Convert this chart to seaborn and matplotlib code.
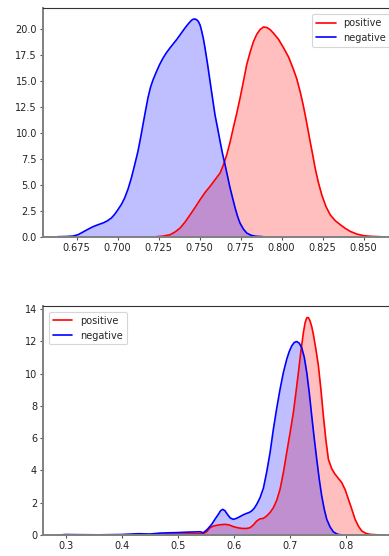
import matplotlib
matplotlib.use("Agg")
import matplotlib.pyplot as plt
import seaborn as sns
import pandas as pd

# ---- data (density curves) ----
top_pos_x = [0.7238, 0.7279, 0.7320, 0.7350, 0.7381, 0.7411, 0.7442, 0.7472, 0.7503, 0.7533,
             0.7564, 0.7595, 0.7625, 0.7645, 0.7666, 0.7686, 0.7706, 0.7727, 0.7747, 0.7768,
             0.7788, 0.7809, 0.7829, 0.7849, 0.7869, 0.7890, 0.7910, 0.7930, 0.7951, 0.7982,
             0.8012, 0.8043, 0.8073, 0.8093, 0.8113, 0.8129, 0.8144, 0.8159, 0.8174, 0.8190,
             0.8205, 0.8225, 0.8246, 0.8271, 0.8297, 0.8327, 0.8358, 0.8389, 0.8419, 0.8460,
             0.8500, 0.8550, 0.8602]
top_pos_y = [0.0, 0.06, 0.19, 0.45, 0.83, 1.4, 2.1, 2.8, 3.56, 4.25,
             4.85, 5.5, 6.13, 6.9, 7.9, 9.1, 10.5, 11.9, 13.35, 15.0,
             16.6, 17.8, 18.8, 19.5, 19.95, 20.2, 20.15, 19.95, 19.6, 19.0,
             18.2, 17.3, 16.1, 15.2, 14.0, 12.9, 11.75, 10.5, 9.2, 7.9,
             6.6, 5.2, 4.0, 2.9, 2.1, 1.55, 1.16, 0.8, 0.51, 0.25,
             0.1, 0.03, 0.0]

top_neg_x = [0.6636, 0.6690, 0.6728, 0.6760, 0.6789, 0.6820, 0.6850, 0.6880, 0.6911, 0.6937,
             0.6962, 0.6982, 0.7002, 0.7023, 0.7043, 0.7064, 0.7084, 0.7104, 0.7124, 0.7140,
             0.7155, 0.7170, 0.7185, 0.7200, 0.7216, 0.7237, 0.7257, 0.7277, 0.7297, 0.7318,
             0.7338, 0.7361, 0.7386, 0.7411, 0.7431, 0.7451, 0.7462, 0.7472, 0.7482, 0.7492,
             0.7503, 0.7513, 0.7523, 0.7533, 0.7549, 0.7564, 0.7579, 0.7594, 0.7610, 0.7625,
             0.7640, 0.7656, 0.7671, 0.7686, 0.7702, 0.7717, 0.7732, 0.7747, 0.7768, 0.7788,
             0.7814, 0.7839, 0.7886]
top_neg_y = [0.0, 0.02, 0.06, 0.2, 0.45, 0.72, 0.96, 1.15, 1.32, 1.52,
             1.8, 2.15, 2.6, 3.1, 3.72, 4.6, 5.65, 6.9, 8.2, 9.5,
             10.8, 12.1, 13.35, 14.35, 15.1, 15.9, 16.6, 17.2, 17.7, 18.15,
             18.55, 19.0, 19.55, 20.1, 20.5, 20.85, 20.95, 20.97, 20.9, 20.75,
             20.4, 19.8, 19.1, 18.2, 16.6, 14.96, 13.35, 11.75, 10.45, 9.2,
             8.0, 6.9, 5.8, 4.7, 3.7, 2.76, 1.95, 1.3, 0.72, 0.35,
             0.14, 0.05, 0.0]

bot_pos_x = [0.4768, 0.5101, 0.5400, 0.5458, 0.5517, 0.5577, 0.5636, 0.5696, 0.5770, 0.5845,
             0.5920, 0.5994, 0.6070, 0.6143, 0.6220, 0.6292, 0.6350, 0.6411, 0.6470, 0.6530,
             0.6589, 0.6650, 0.6708, 0.6768, 0.6827, 0.6886, 0.6946, 0.7005, 0.7065, 0.7110,
             0.7155, 0.7200, 0.7244, 0.7275, 0.7304, 0.7333, 0.7363, 0.7393, 0.7423, 0.7467,
             0.7512, 0.7557, 0.7601, 0.7645, 0.7690, 0.7750, 0.7810, 0.7870, 0.7929, 0.7990,
             0.8048, 0.8108, 0.8167, 0.8226, 0.8286, 0.8360, 0.8435, 0.8613]
bot_pos_y = [0.04, 0.06, 0.08, 0.08, 0.2, 0.45, 0.55, 0.6, 0.64, 0.66,
             0.62, 0.52, 0.45, 0.41, 0.4, 0.45, 0.62, 0.87, 1.0, 1.03,
             1.18, 1.4, 1.69, 2.15, 2.83, 3.85, 5.1, 6.3, 7.58, 8.8,
             10.06, 11.4, 12.53, 13.15, 13.45, 13.46, 13.25, 12.9, 12.4, 11.5,
             10.47, 9.0, 7.37, 5.9, 4.69, 4.1, 3.76, 3.5, 3.24, 2.8,
             2.21, 1.6, 0.97, 0.55, 0.25, 0.1, 0.04, 0.0]

bot_neg_x = [0.2887, 0.30, 0.32, 0.36, 0.40, 0.43, 0.45, 0.47, 0.50, 0.52,
             0.5400, 0.5458, 0.5530, 0.5607, 0.5670, 0.5726, 0.5765, 0.5804, 0.5845, 0.5887,
             0.5940, 0.5994, 0.6050, 0.6113, 0.6170, 0.6232, 0.6280, 0.6321, 0.6365, 0.6411,
             0.6470, 0.6530, 0.6589, 0.6649, 0.6708, 0.6768, 0.6827, 0.6886, 0.6946, 0.6990,
             0.7036, 0.7080, 0.7125, 0.7170, 0.7214, 0.7260, 0.7304, 0.7349, 0.7393, 0.7437,
             0.7482, 0.7527, 0.7571, 0.7616, 0.7661, 0.7720, 0.7780, 0.7850, 0.7929]
bot_neg_y = [0.0, 0.03, 0.02, 0.01, 0.03, 0.08, 0.06, 0.12, 0.15, 0.18,
             0.2, 0.14, 0.35, 0.66, 1.0, 1.28, 1.5, 1.59, 1.5, 1.28,
             1.05, 0.97, 1.03, 1.14, 1.25, 1.34, 1.4, 1.49, 1.65, 1.9,
             2.31, 2.9, 3.9, 5.1, 6.55, 7.85, 9.02, 10.05, 10.88, 11.35,
             11.71, 11.92, 11.98, 11.88, 11.6, 11.0, 10.06, 8.8, 7.37, 6.0,
             4.69, 3.45, 2.42, 1.6, 0.97, 0.5, 0.19, 0.05, 0.0]

labels = ["positive", "negative"]
colors = ["red", "blue"]

top_xticks = [0.675, 0.700, 0.725, 0.750, 0.775, 0.800, 0.825, 0.850]
top_yticks = [0.0, 2.5, 5.0, 7.5, 10.0, 12.5, 15.0, 17.5, 20.0]
bot_xticks = [0.3, 0.4, 0.5, 0.6, 0.7, 0.8]
bot_yticks = [0, 2, 4, 6, 8, 10, 12, 14]

sns.set_style("ticks")
plt.rcParams["font.family"] = ["DejaVu Sans"]

fig = plt.figure(figsize=(3.89, 5.56), dpi=100)
W, H = 389.0, 556.0
ax1 = fig.add_axes([43.3 / W, 1 - 236.7 / H, (396 - 43.3) / W, (236.7 - 8.3) / H])
ax2 = fig.add_axes([43.3 / W, 1 - 535 / H, (396 - 43.3) / W, (535 - 306) / H])


def draw(ax, series, xlim, ylim, xticks, yticks, xfmt, yfmt, legloc):
    for (xs, ys), lab, col in zip(series, labels, colors):
        df = pd.DataFrame({"x": xs, "y": ys})
        sns.lineplot(data=df, x="x", y="y", ax=ax, color=col, lw=1.2, label=lab)
        ax.fill_between(xs, ys, 0, color=col, alpha=0.25, lw=0)
    for line in ax.get_lines():
        line.set_solid_joinstyle("round")
    ax.set_xlim(*xlim)
    ax.set_ylim(*ylim)
    ax.set_xticks(xticks)
    ax.set_xticklabels([xfmt(t) for t in xticks])
    ax.set_yticks(yticks)
    ax.set_yticklabels([yfmt(t) for t in yticks])
    ax.set_xlabel("")
    ax.set_ylabel("")
    ax.tick_params(labelsize=7, length=2.5, width=0.8, color="#555555",
                   labelcolor="#222222", direction="out", pad=2)
    for s in ["left", "bottom"]:
        ax.spines[s].set_color("#808080")
        ax.spines[s].set_linewidth(1.4)
    for s in ["top", "right"]:
        ax.spines[s].set_visible(True)
        ax.spines[s].set_color("#333333")
        ax.spines[s].set_linewidth(0.8)
    leg = ax.legend(loc=legloc, fontsize=7, frameon=True, fancybox=True,
                    handlelength=2.0, borderaxespad=0.6)
    leg.get_frame().set_edgecolor("#cccccc")
    leg.get_frame().set_linewidth(0.8)


draw(ax1, [(top_pos_x, top_pos_y), (top_neg_x, top_neg_y)],
     (0.6547, 0.8698), (0, 22.0), top_xticks, top_yticks,
     lambda t: f"{t:.3f}", lambda t: f"{t:.1f}", "upper right")
draw(ax2, [(bot_pos_x, bot_pos_y), (bot_neg_x, bot_neg_y)],
     (0.2601, 0.8897), (0, 14.18), bot_xticks, bot_yticks,
     lambda t: f"{t:.1f}", lambda t: f"{t:d}", "upper left")

fig.savefig("out.png", dpi=100)
